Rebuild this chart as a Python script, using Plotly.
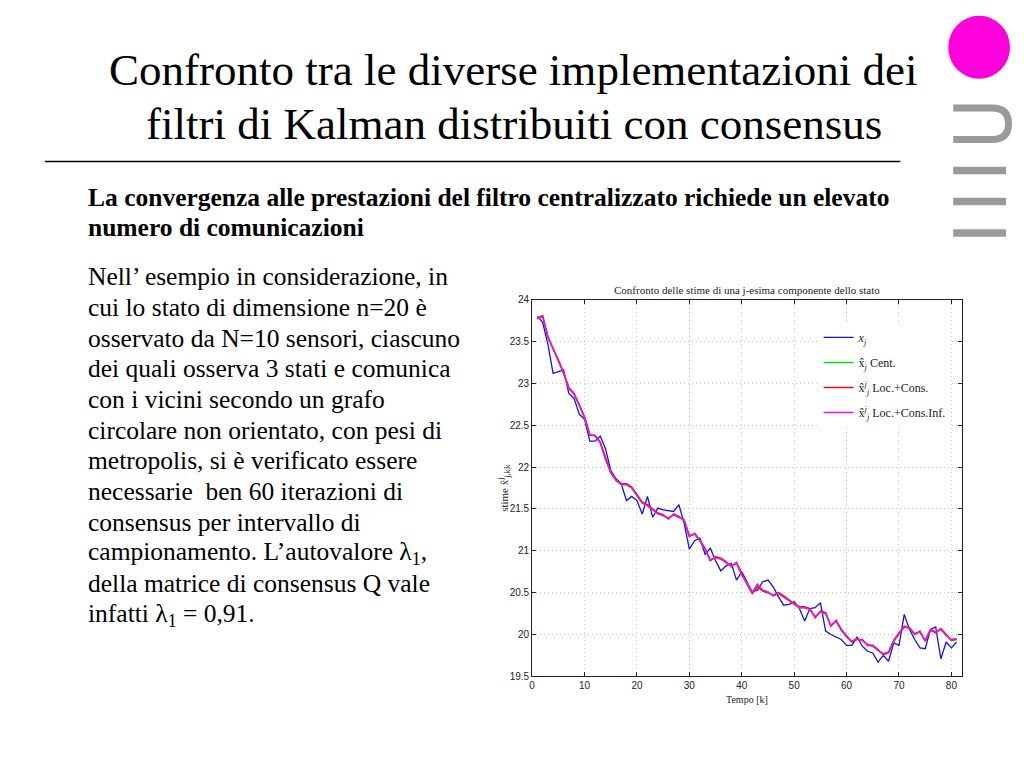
import plotly.graph_objects as go

W, H = 1024, 768

k = list(range(1, 82))
x_true = [23.80, 23.73, 23.47, 23.12, 23.14, 23.16, 22.88, 22.82, 22.63, 22.57,
          22.31, 22.31, 22.37, 22.22, 21.96, 21.86, 21.80, 21.60, 21.65, 21.60,
          21.44, 21.65, 21.40, 21.51, 21.49, 21.48, 21.47, 21.55, 21.33, 21.02,
          21.12, 21.15, 20.96, 21.03, 20.88, 20.76, 20.82, 20.85, 20.65, 20.75,
          20.63, 20.51, 20.53, 20.63, 20.65, 20.57, 20.45, 20.35, 20.36, 20.39,
          20.31, 20.16, 20.31, 20.32, 20.38, 20.04, 20.00, 19.97, 19.94, 19.87,
          19.87, 19.97, 19.86, 19.80, 19.78, 19.67, 19.75, 19.68, 19.90, 19.87,
          20.24, 20.06, 19.94, 19.84, 19.83, 20.06, 20.09, 19.71, 19.91, 19.84,
          19.91]
x_loc_cons = [23.78, 23.81, 23.55, 23.42, 23.28, 23.13, 22.95, 22.88, 22.75, 22.60,
              22.38, 22.38, 22.30, 22.10, 21.93, 21.85, 21.80, 21.80, 21.76, 21.67,
              21.58, 21.55, 21.50, 21.45, 21.43, 21.38, 21.44, 21.41, 21.36, 21.17,
              21.21, 21.13, 21.03, 20.88, 20.93, 20.91, 20.87, 20.81, 20.86, 20.72,
              20.60, 20.49, 20.57, 20.52, 20.50, 20.47, 20.50, 20.46, 20.41, 20.37,
              20.33, 20.33, 20.31, 20.20, 20.28, 20.26, 20.10, 20.17, 20.06, 19.98,
              19.91, 19.94, 19.94, 19.87, 19.87, 19.82, 19.76, 19.78, 19.92, 20.01,
              20.09, 20.08, 20.00, 20.04, 19.92, 20.05, 20.02, 20.07, 20.00, 19.93,
              19.94]
x_loc_cons_inf = [23.77, 23.80, 23.56, 23.41, 23.27, 23.12, 22.94, 22.87, 22.74, 22.59,
                  22.39, 22.37, 22.29, 22.09, 21.94, 21.84, 21.79, 21.79, 21.75, 21.66,
                  21.57, 21.54, 21.49, 21.44, 21.42, 21.39, 21.43, 21.40, 21.37, 21.18,
                  21.20, 21.12, 21.02, 20.89, 20.92, 20.90, 20.86, 20.82, 20.85, 20.71,
                  20.61, 20.50, 20.60, 20.53, 20.51, 20.46, 20.49, 20.45, 20.40, 20.36,
                  20.32, 20.32, 20.30, 20.21, 20.27, 20.25, 20.11, 20.16, 20.05, 19.97,
                  19.92, 19.95, 19.93, 19.88, 19.86, 19.81, 19.77, 19.79, 19.93, 20.02,
                  20.10, 20.07, 20.01, 20.03, 19.93, 20.06, 20.03, 20.06, 19.99, 19.94,
                  19.95]
x_cent = x_loc_cons_inf

y_ticks = [19.5, 20, 20.5, 21, 21.5, 22, 22.5, 23, 23.5, 24]
y_tick_labels = ["19.5", "20", "20.5", "21", "21.5", "22", "22.5", "23", "23.5", "24"]
x_ticks = [0, 10, 20, 30, 40, 50, 60, 70, 80]

series_names = ["<i>x</i><sub><i>j</i></sub>",
                "x̂<sub><i>j</i></sub> Cent.",
                "x̂<sup><i>j</i></sup><sub><i>j</i></sub> Loc.+Cons.",
                "x̂<sup><i>j</i></sup><sub><i>j</i></sub> Loc.+Cons.Inf."]
series_colors = ["#1010f0", "#10e010", "#f01010", "#f010f0"]

title_lines = ["Confronto tra le diverse implementazioni dei",
               "filtri di Kalman distribuiti con consensus"]
bold_lines = ["La convergenza alle prestazioni del filtro centralizzato richiede un elevato",
              "numero di comunicazioni"]
body_lines = ["Nell’ esempio in considerazione, in",
              "cui lo stato di dimensione n=20 è",
              "osservato da N=10 sensori, ciascuno",
              "dei quali osserva 3 stati e comunica",
              "con i vicini secondo un grafo",
              "circolare non orientato, con pesi di",
              "metropolis, si è verificato essere",
              "necessarie  ben 60 iterazioni di",
              "consensus per intervallo di",
              "campionamento. L’autovalore λ<sub>1</sub>,",
              "della matrice di consensus Q vale",
              "infatti λ<sub>1</sub> = 0,91."]


def px(x):
    return x / W


def py(y):
    return 1 - y / H


fig = go.Figure()
for vals, name, col, wd in zip([x_true, x_cent, x_loc_cons, x_loc_cons_inf],
                               series_names, series_colors, [1.3, 1.5, 1.6, 1.4]):
    fig.add_trace(go.Scatter(x=k, y=vals, mode="lines", name=name,
                             line=dict(color=col, width=wd), legendgroup=name))

serif = "Liberation Serif"
sans = "Liberation Sans"

ann = []
for i, t in enumerate(title_lines):
    ann.append(dict(text=t, x=px(512), y=py(65 + i * 55), xref="paper", yref="paper",
                    showarrow=False, xanchor="center", yanchor="middle",
                    font=dict(family=serif, size=45, color="black")))
for i, t in enumerate(bold_lines):
    ann.append(dict(text="<b>" + t + "</b>", x=px(83), y=py(195 + i * 30), xref="paper",
                    yref="paper", showarrow=False, xanchor="left", yanchor="middle",
                    font=dict(family=serif, size=25.5, color="black")))
for i, t in enumerate(body_lines):
    ann.append(dict(text=t, x=px(83), y=py(275 + i * 31.2), xref="paper", yref="paper",
                    showarrow=False, xanchor="left", yanchor="middle",
                    font=dict(family=serif, size=25.5, color="black")))
ann.append(dict(text="Confronto delle stime di una j-esima componente dello stato",
                x=px(746), y=py(289), xref="paper", yref="paper", showarrow=False,
                xanchor="center", yanchor="middle",
                font=dict(family=serif, size=11, color="#222")))
ann.append(dict(text="Tempo [k]", x=px(746), y=py(704), xref="paper", yref="paper",
                showarrow=False, xanchor="center", yanchor="middle",
                font=dict(family=serif, size=10, color="#222")))
ann.append(dict(text="stime x̂<sup>j</sup><sub>j,k|k</sub>", x=px(503), y=py(490),
                xref="paper", yref="paper", showarrow=False, textangle=-90,
                xanchor="center", yanchor="middle",
                font=dict(family=serif, size=11, color="#222")))

gray = "#9a9a9a"
shapes = [
    dict(type="line", xref="paper", yref="paper", x0=px(42), x1=px(900), y0=py(158), y1=py(158),
         line=dict(color="black", width=1.5)),
    dict(type="circle", xref="paper", yref="paper", x0=px(948), x1=px(1010), y0=py(10), y1=py(74),
         fillcolor="#ff00dd", line=dict(width=0)),
    dict(type="path", xref="paper", yref="paper",
         path=(f"M {px(953)},{py(103.5)} L {px(992)},{py(103.5)} "
               f"Q {px(1008.5)},{py(103.5)} {px(1008.5)},{py(119.5)} "
               f"Q {px(1008.5)},{py(135.5)} {px(992)},{py(135.5)} L {px(953)},{py(135.5)}"),
         line=dict(color=gray, width=7)),
]
for yy in [167, 198.5, 230.5]:
    shapes.append(dict(type="rect", xref="paper", yref="paper", x0=px(953), x1=px(1006),
                       y0=py(yy - 3.8), y1=py(yy + 3.8), fillcolor=gray, line=dict(width=0)))

axis_common = dict(showline=True, linecolor="#222", linewidth=1, mirror="ticks",
                   ticks="inside", ticklen=4, tickcolor="#222", showgrid=True,
                   gridcolor="#c4c4c4", griddash="1px,3px", gridwidth=1, zeroline=False,
                   tickfont=dict(family=sans, size=10, color="#222"))

fig.update_layout(
    width=W, height=H, autosize=False,
    margin=dict(l=0, r=0, t=0, b=0),
    paper_bgcolor="white", plot_bgcolor="white",
    xaxis=dict(domain=[px(530.7), px(961.7)], range=[0, 82], tickvals=x_ticks,
               **axis_common),
    yaxis=dict(domain=[py(681), py(298.3)], range=[19.5, 24], tickvals=y_ticks,
               ticktext=y_tick_labels, **axis_common),
    showlegend=True,
    legend=dict(x=px(818), y=py(322), xanchor="left", yanchor="top",
                bgcolor="white", borderwidth=0, traceorder="grouped",
                tracegroupgap=6, itemwidth=30,
                font=dict(family=serif, size=12, color="#222")),
    annotations=ann, shapes=shapes,
)

fig.write_html("out.html", config={"displayModeBar": False},
               post_script="document.body.style.margin='0';document.body.style.overflow='hidden';")
